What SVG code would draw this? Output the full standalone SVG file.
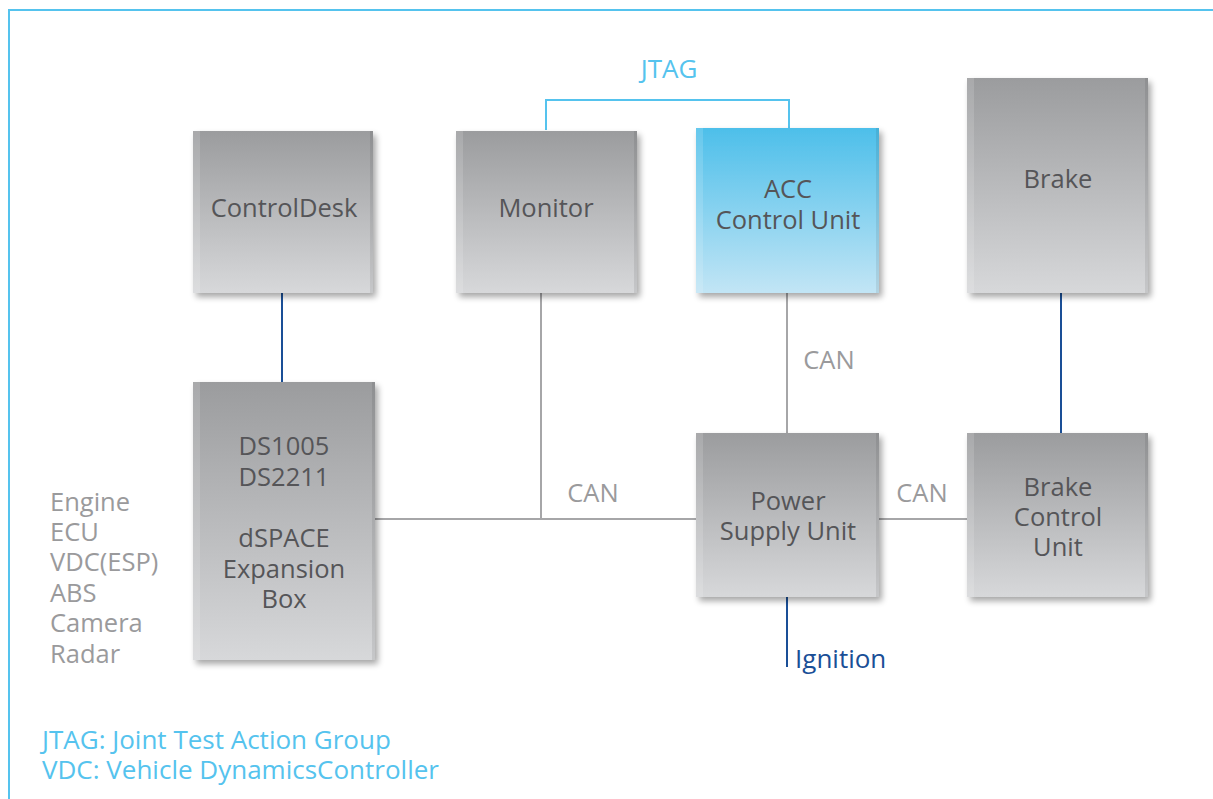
<svg xmlns="http://www.w3.org/2000/svg" width="1213" height="799" viewBox="0 0 1213 799">
<style>
.lbl{font-family:"Open Sans","Noto Sans","Liberation Sans",sans-serif;font-size:25.5px;fill:#555558;text-anchor:middle}
.gray{font-family:"Open Sans","Noto Sans","Liberation Sans",sans-serif;font-size:25.5px;fill:#9a9a9c}
.blue{font-family:"Open Sans","Noto Sans","Liberation Sans",sans-serif;font-size:26px;fill:#55c3ee}
.dblue{font-family:"Open Sans","Noto Sans","Liberation Sans",sans-serif;font-size:26px;fill:#1a4f97}
.gl{stroke:#a6a6a8;stroke-width:2;fill:none}
.bl{stroke:#1a4f97;stroke-width:2;fill:none}
.jl{stroke:#55c3ee;stroke-width:2;fill:none}
.box{fill:url(#g);filter:url(#sh)}
.acc{fill:url(#ga);filter:url(#sh)}
.hl{fill:#fff;opacity:0.14}
.dk{fill:#000;opacity:0.08}
</style>
<defs>
<linearGradient id="g" x1="0" y1="0" x2="0" y2="1">
<stop offset="0" stop-color="#9b9c9e"/>
<stop offset="1" stop-color="#d7d8da"/>
</linearGradient>
<linearGradient id="ga" x1="0" y1="0" x2="0" y2="1">
<stop offset="0" stop-color="#4dbfea"/>
<stop offset="1" stop-color="#c2e5f5"/>
</linearGradient>
<filter id="sh" x="-10%" y="-10%" width="125%" height="125%">
<feGaussianBlur in="SourceAlpha" stdDeviation="3"/>
<feOffset dx="3" dy="4" result="b"/>
<feComponentTransfer><feFuncA type="linear" slope="0.35"/></feComponentTransfer>
<feMerge><feMergeNode/><feMergeNode in="SourceGraphic"/></feMerge>
</filter>
</defs>
<rect width="1213" height="799" fill="#fff"/>
<path d="M9 799 V10 H1213" stroke="#55c3ee" stroke-width="2" fill="none"/>
<g id="connectors">
<line class="bl" x1="282" y1="293" x2="282" y2="382"/>
<line class="bl" x1="1061" y1="293" x2="1061" y2="433"/>
<path class="jl" d="M546 130 V100 H789 V128"/>
<line class="gl" x1="541" y1="293" x2="541" y2="519"/>
<line class="gl" x1="787" y1="293" x2="787" y2="433"/>
<line class="gl" x1="375" y1="519" x2="696" y2="519"/>
<line class="gl" x1="879" y1="519" x2="967" y2="519"/>
<line class="bl" x1="787" y1="597" x2="787" y2="667"/>
<text class="blue" x="669" y="78" text-anchor="middle">JTAG</text>
<text class="gray" x="829" y="369" text-anchor="middle">CAN</text>
<text class="gray" x="593" y="502" text-anchor="middle">CAN</text>
<text class="gray" x="922" y="502" text-anchor="middle">CAN</text>
<text class="dblue" x="795" y="668">Ignition</text>
</g>
<g id="controldesk"><rect class="box" x="193" y="131" width="180" height="162"/><rect class="hl" x="193" y="131" width="7" height="162"/><rect class="dk" x="370" y="131" width="3" height="162"/><text class="lbl" x="284" y="217">ControlDesk</text></g>
<g id="monitor"><rect class="box" x="456" y="131" width="181" height="162"/><rect class="hl" x="456" y="131" width="7" height="162"/><rect class="dk" x="634" y="131" width="3" height="162"/><text class="lbl" x="546" y="217">Monitor</text></g>
<g id="acc"><rect class="acc" x="696" y="128" width="183" height="165"/><rect class="hl" x="696" y="128" width="7" height="165"/><rect class="dk" x="876" y="128" width="3" height="165"/><text class="lbl" x="788" y="198">ACC</text><text class="lbl" x="788" y="229">Control Unit</text></g>
<g id="brake"><rect class="box" x="967" y="78" width="181" height="215"/><rect class="hl" x="967" y="78" width="7" height="215"/><rect class="dk" x="1145" y="78" width="3" height="215"/><text class="lbl" x="1058" y="188">Brake</text></g>
<g id="dspace"><rect class="box" x="193" y="382" width="182" height="278"/><rect class="hl" x="193" y="382" width="7" height="278"/><rect class="dk" x="372" y="382" width="3" height="278"/>
<text class="lbl" x="284" y="455">DS1005</text><text class="lbl" x="284" y="486">DS2211</text>
<text class="lbl" x="284" y="547">dSPACE</text><text class="lbl" x="284" y="578">Expansion</text><text class="lbl" x="284" y="608">Box</text></g>
<g id="psu"><rect class="box" x="696" y="433" width="183" height="164"/><rect class="hl" x="696" y="433" width="7" height="164"/><rect class="dk" x="876" y="433" width="3" height="164"/><text class="lbl" x="788" y="510">Power</text><text class="lbl" x="788" y="540">Supply Unit</text></g>
<g id="bcu"><rect class="box" x="967" y="433" width="181" height="164"/><rect class="hl" x="967" y="433" width="7" height="164"/><rect class="dk" x="1145" y="433" width="3" height="164"/><text class="lbl" x="1058" y="496">Brake</text><text class="lbl" x="1058" y="526">Control</text><text class="lbl" x="1058" y="556">Unit</text></g>
<g id="signals">
<text class="gray" x="50" y="511">Engine</text>
<text class="gray" x="50" y="541">ECU</text>
<text class="gray" x="50" y="571">VDC(ESP)</text>
<text class="gray" x="50" y="602">ABS</text>
<text class="gray" x="50" y="632">Camera</text>
<text class="gray" x="50" y="663">Radar</text>
</g>
<g id="legend">
<text class="blue" x="42" y="749">JTAG: Joint Test Action Group</text>
<text class="blue" x="42" y="779">VDC: Vehicle DynamicsController</text>
</g>
</svg>
